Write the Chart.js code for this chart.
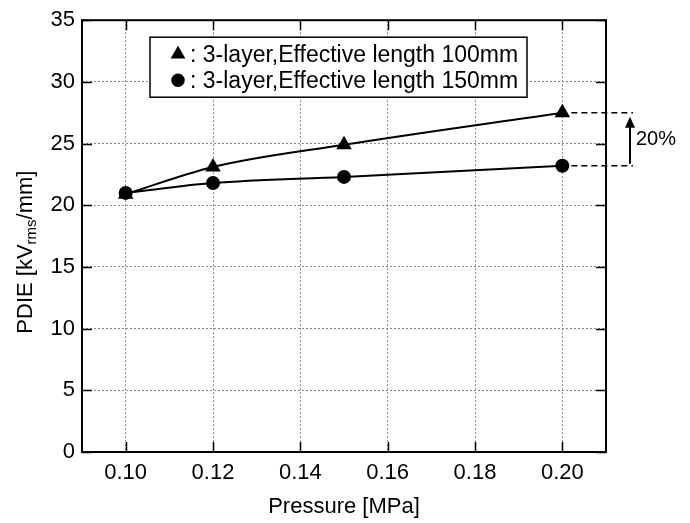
<!DOCTYPE html>
<html>
<head>
<meta charset="utf-8">
<script src="https://cdn.jsdelivr.net/npm/chart.js@4/dist/chart.umd.min.js"></script>
<style>
  html, body { margin: 0; padding: 0; background: #fff; }
</style>
</head>
<body>
<canvas id="chart" width="690" height="523"></canvas>
<script>
// data
const pressure = [0.10, 0.12, 0.15, 0.20];
const pdie100 = [20.9, 23.1, 24.9, 27.5];
const pdie150 = [21.0, 21.8, 22.3, 23.2];
const xTicks = [0.10, 0.12, 0.14, 0.16, 0.18, 0.20];
const yTicks = [0, 5, 10, 15, 20, 25, 30, 35];
const seriesLabels = ["3-layer,Effective length 100mm", "3-layer,Effective length 150mm"];
const increaseLabel = "20%";

const FONT = "'Liberation Sans', Arial, Helvetica, sans-serif";

const toPoints = (ys) => pressure.map((x, i) => ({ x: x, y: ys[i] }));

// box, inward ticks, y title, legend and the 20% note
const extras = {
  id: "extras",
  beforeDatasetsDraw(chart) {
    const { ctx, chartArea: a, scales } = chart;
    ctx.save();
    ctx.strokeStyle = "#000";
    ctx.lineWidth = 2;
    ctx.strokeRect(a.left, a.top, a.right - a.left, a.bottom - a.top);
    ctx.lineWidth = 1.5;
    ctx.beginPath();
    xTicks.forEach((v) => {
      const px = Math.round(scales.x.getPixelForValue(v)) + 0.5;
      ctx.moveTo(px, a.bottom); ctx.lineTo(px, a.bottom - 10);
      ctx.moveTo(px, a.top); ctx.lineTo(px, a.top + 10);
    });
    yTicks.forEach((v) => {
      const py = Math.round(scales.y.getPixelForValue(v)) + 0.5;
      ctx.moveTo(a.left, py); ctx.lineTo(a.left + 10, py);
      ctx.moveTo(a.right, py); ctx.lineTo(a.right - 10, py);
    });
    ctx.stroke();

    // y axis title with subscript
    ctx.translate(26, (a.top + a.bottom) / 2 + 16);
    ctx.rotate(-Math.PI / 2);
    ctx.fillStyle = "#000";
    ctx.textBaseline = "middle";
    const big = "22px " + FONT, small = "15px " + FONT;
    const parts = [["PDIE [kV", big, 0], ["rms", small, 6], ["/mm]", big, 0]];
    let total = 0;
    parts.forEach((p) => { ctx.font = p[1]; total += ctx.measureText(p[0]).width; });
    let x = -total / 2;
    parts.forEach((p) => {
      ctx.font = p[1];
      ctx.fillText(p[0], x, p[2]);
      x += ctx.measureText(p[0]).width;
    });
    ctx.restore();
  },
  afterDatasetsDraw(chart) {
    const { ctx, chartArea: a, scales } = chart;
    ctx.save();

    // legend box
    const lx = a.left + 68, ly = a.top + 17, lw = 377, lh = 60;
    ctx.fillStyle = "#fff";
    ctx.fillRect(lx, ly, lw, lh);
    ctx.strokeStyle = "#000";
    ctx.lineWidth = 1.5;
    ctx.strokeRect(lx, ly, lw, lh);
    chart.data.datasets.forEach((ds, i) => {
      const cy = ly + 17 + i * 26;
      ctx.fillStyle = "#000";
      ctx.strokeStyle = "#000";
      Chart.helpers.drawPoint(ctx, { pointStyle: ds.pointStyle, radius: ds.pointRadius, rotation: 0, borderWidth: 1 }, lx + 28, cy);
      ctx.font = "23px " + FONT;
      ctx.textBaseline = "middle";
      ctx.textAlign = "left";
      ctx.fillText(": " + ds.label, lx + 40, cy + 1);
    });

    // 20% note at the last pressure
    const last = pressure.length - 1;
    const x0 = scales.x.getPixelForValue(pressure[last]) + 9;
    const yTop = scales.y.getPixelForValue(pdie100[last]);
    const yBot = scales.y.getPixelForValue(pdie150[last]);
    const xEnd = a.right + 27;
    ctx.strokeStyle = "#000";
    ctx.lineWidth = 1.5;
    ctx.setLineDash([6, 4]);
    ctx.beginPath();
    ctx.moveTo(x0, yTop); ctx.lineTo(xEnd, yTop);
    ctx.moveTo(x0, yBot); ctx.lineTo(xEnd, yBot);
    ctx.stroke();
    ctx.setLineDash([]);
    const ax = xEnd - 3;
    ctx.lineWidth = 2;
    ctx.beginPath();
    ctx.moveTo(ax, yBot - 2); ctx.lineTo(ax, yTop + 10);
    ctx.stroke();
    ctx.fillStyle = "#000";
    ctx.beginPath();
    ctx.moveTo(ax, yTop + 4); ctx.lineTo(ax - 5, yTop + 15); ctx.lineTo(ax + 5, yTop + 15);
    ctx.closePath();
    ctx.fill();
    ctx.font = "20px " + FONT;
    ctx.textBaseline = "middle";
    ctx.fillText(increaseLabel, ax + 6, (yTop + yBot) / 2);
    ctx.restore();
  }
};

new Chart(document.getElementById("chart"), {
  type: "scatter",
  data: {
    datasets: [
      {
        label: seriesLabels[0],
        data: toPoints(pdie100),
        showLine: true,
        borderColor: "#000",
        backgroundColor: "#000",
        borderWidth: 2,
        pointStyle: "triangle",
        pointRadius: 7,
        cubicInterpolationMode: "monotone",
      },
      {
        label: seriesLabels[1],
        data: toPoints(pdie150),
        showLine: true,
        borderColor: "#000",
        backgroundColor: "#000",
        borderWidth: 2,
        pointStyle: "circle",
        pointRadius: 6,
        cubicInterpolationMode: "monotone",
      },
    ],
  },
  options: {
    responsive: false,
    animation: false,
    layout: { padding: { top: 17, right: 84, left: 0, bottom: 0 } },
    scales: {
      x: {
        type: "linear",
        min: 0.09,
        max: 0.21,
        afterBuildTicks: (s) => { s.ticks = xTicks.map((v) => ({ value: v })); },
        afterFit: (s) => { s.height = 71; },
        grid: { color: "#888", lineWidth: 1, drawTicks: false },
        border: { display: false, dash: [2, 2] },
        ticks: {
          color: "#000",
          font: { family: FONT, size: 22 },
          padding: 8,
          maxRotation: 0,
          callback: (v) => v.toFixed(2),
        },
        title: {
          display: true,
          text: "Pressure [MPa]",
          color: "#000",
          font: { family: FONT, size: 22 },
          padding: { top: 0, bottom: 3 },
        },
      },
      y: {
        min: 0,
        max: 35,
        afterBuildTicks: (s) => { s.ticks = yTicks.map((v) => ({ value: v })); },
        afterFit: (s) => { s.width = 82; },
        grid: { color: "#888", lineWidth: 1, drawTicks: false },
        border: { display: false, dash: [2, 2] },
        ticks: {
          color: "#000",
          font: { family: FONT, size: 22 },
          padding: 7,
        },
      },
    },
    plugins: {
      legend: { display: false },
      tooltip: { enabled: false },
    },
  },
  plugins: [extras],
});
</script>
</body>
</html>
